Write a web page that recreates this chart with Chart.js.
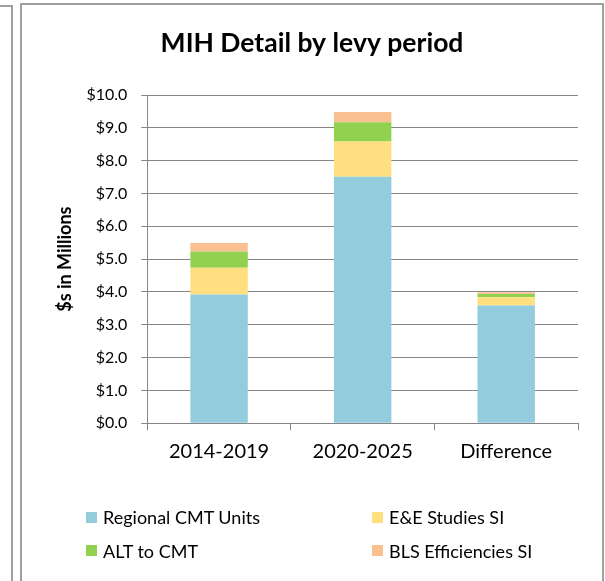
<!DOCTYPE html>
<html>
<head>
<meta charset="utf-8">
<script src="https://cdn.jsdelivr.net/npm/chart.js@4.4.1/dist/chart.umd.min.js"></script>
<style>
  html, body { margin: 0; padding: 0; background: #fff; overflow: hidden; }
  body { width: 605px; height: 581px; position: relative; font-family: Lato, "Liberation Sans", sans-serif; }
  #leftframe { position: absolute; left: -10px; top: 5px; width: 21px; height: 600px; border-right: 2px solid #a0a0a0; border-top: 2px solid #a0a0a0; }
  #frame { position: absolute; left: 20px; top: 3px; width: 580px; height: 600px; border: 2px solid #a0a0a0; border-bottom: none; }
  #c { position: absolute; left: 0; top: 0; }
  .lg { position: absolute; display: flex; align-items: center; font-size: 18px; color: #000; white-space: nowrap; }
  .lg .sw { width: 11px; height: 11px; margin-right: 6px; flex: none; }
</style>
</head>
<body>
<div id="leftframe"></div>
<div id="frame">
  <canvas id="c" width="580" height="576"></canvas>
  <div id="legend"></div>
</div>
<script>
const categories = ["2014-2019", "2020-2025", "Difference"];
const regionalCMT = [3.92, 7.51, 3.59];
const eeStudies   = [0.82, 1.07, 0.25];
const altToCMT    = [0.49, 0.59, 0.10];
const blsEff      = [0.26, 0.31, 0.05];
const seriesNames = ["Regional CMT Units", "E&E Studies SI", "ALT to CMT", "BLS Efficiencies SI"];
const seriesColors = ["#93cddd", "#ffdf80", "#92d050", "#fac090"];
const yTicks = [0,1,2,3,4,5,6,7,8,9,10];

const FONT = "Lato, 'Liberation Sans', sans-serif";
const values = [regionalCMT, eeStudies, altToCMT, blsEff];

const chart = new Chart(document.getElementById('c'), {
  type: 'bar',
  data: {
    labels: categories,
    datasets: values.map((v, i) => ({
      label: seriesNames[i],
      data: v,
      backgroundColor: seriesColors[i],
      borderWidth: 0,
      barPercentage: 0.4,
      categoryPercentage: 1.0
    }))
  },
  options: {
    responsive: false,
    animation: false,
    layout: { padding: { left: 24, right: 24, top: 0, bottom: 0 } },
    plugins: {
      legend: { display: false },
      tooltip: { enabled: false },
      title: {
        display: true,
        text: "MIH Detail by levy period",
        color: '#000',
        font: { family: FONT, size: 26.5, weight: 'bold' },
        padding: { top: 22.1, bottom: 36.1 }
      }
    },
    scales: {
      x: {
        stacked: true,
        afterFit: s => { s.height = 157.7; },
        grid: { offset: true, drawOnChartArea: false, drawTicks: true, tickLength: 7, color: '#868686', lineWidth: 1 },
        border: { display: true, color: '#868686', width: 1 },
        ticks: { color: '#000', font: { family: FONT, size: 20 }, padding: 9 }
      },
      y: {
        stacked: true,
        min: 0, max: 10,
        afterFit: s => { s.width = 101.3; },
        afterBuildTicks: s => { s.ticks = yTicks.map(v => ({ value: v })); },
        grid: { color: '#868686', lineWidth: 1, drawTicks: true, tickLength: 6 },
        border: { display: true, color: '#868686', width: 1 },
        ticks: { color: '#000', font: { family: FONT, size: 16 }, padding: 14,
                 callback: v => '$' + Number(v).toFixed(1) },
        title: { display: true, text: "$s in Millions", color: '#000',
                 font: { family: FONT, size: 18, weight: 'bold' },
                 padding: { top: 8, bottom: 0 } }
      }
    }
  }
});

// HTML legend built from the chart's datasets (two columns)
const legendPos = [[64, 512], [350, 512], [64, 545.5], [350, 545.5]];
const lg = document.getElementById('legend');
chart.data.datasets.forEach((ds, i) => {
  const d = document.createElement('div');
  d.className = 'lg';
  d.style.left = legendPos[i][0] + 'px';
  d.style.top = (legendPos[i][1] - 12) + 'px';
  d.style.height = '24px';
  const sw = document.createElement('span');
  sw.className = 'sw';
  sw.style.background = ds.backgroundColor;
  const t = document.createElement('span');
  t.textContent = ds.label;
  d.appendChild(sw); d.appendChild(t);
  lg.appendChild(d);
});
</script>
</body>
</html>
